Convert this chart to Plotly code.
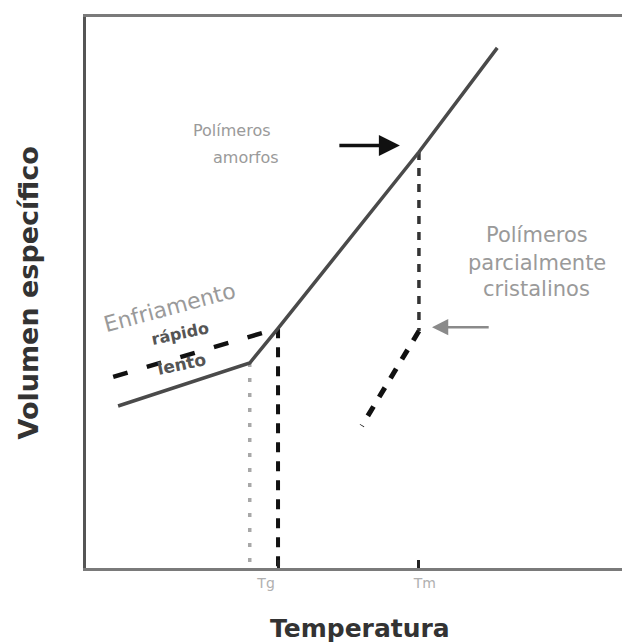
import plotly.graph_objects as go

# ---- data (arbitrary units: temperature 0-100, specific volume 0-100) ----
temp_amorphous = [5.9, 30.1, 35.3, 61.2, 75.6]
vol_amorphous = [29.4, 37.2, 43.5, 75.5, 94.4]

temp_fast_glass = [5.0, 35.3]
vol_fast_glass = [34.7, 43.5]

temp_crystalline = [61.2, 50.7]
vol_crystalline = [43.0, 25.8]

temp_tm_drop = [61.2, 61.2]
vol_tm_drop = [75.5, 43.0]

temp_tg_slow = [30.1, 30.1]
vol_tg_slow = [37.2, 0]

temp_tg_fast = [35.3, 35.3]
vol_tg_fast = [43.5, 0]

tick_vals = [33.1, 62.3]
tick_labels = ["Tg", "Tm"]
minor_tick_vals = [35.3, 61.2]

fig = go.Figure()

fig.add_trace(go.Scatter(x=temp_tg_slow, y=vol_tg_slow, mode="lines",
                         line=dict(color="#a8a8a8", width=3.5, dash="4px,11px"),
                         hoverinfo="skip", showlegend=False))
fig.add_trace(go.Scatter(x=temp_tg_fast, y=vol_tg_fast, mode="lines",
                         line=dict(color="#111111", width=4, dash="10px,9px"),
                         hoverinfo="skip", showlegend=False))
fig.add_trace(go.Scatter(x=temp_tm_drop, y=vol_tm_drop, mode="lines",
                         line=dict(color="#333333", width=3.5, dash="8px,8px"),
                         hoverinfo="skip", showlegend=False))
fig.add_trace(go.Scatter(x=temp_fast_glass, y=vol_fast_glass, mode="lines",
                         line=dict(color="#111111", width=4.5, dash="15px,20px"),
                         hoverinfo="skip", showlegend=False))
fig.add_trace(go.Scatter(x=temp_crystalline, y=vol_crystalline, mode="lines",
                         line=dict(color="#111111", width=5, dash="11px,11px"),
                         hoverinfo="skip", showlegend=False))
fig.add_trace(go.Scatter(x=temp_amorphous, y=vol_amorphous, mode="lines",
                         line=dict(color="#4a4a4a", width=3.5),
                         hoverinfo="skip", showlegend=False))

grey_txt = "#9a9a9a"
ann = []
# group labels
ann.append(dict(x=26.8, y=79.4, text="Polímeros", showarrow=False,
                font=dict(family="DejaVu Sans", size=16, color=grey_txt)))
ann.append(dict(x=29.4, y=74.5, text="amorfos", showarrow=False,
                font=dict(family="DejaVu Sans", size=16, color=grey_txt)))
ann.append(dict(x=82.9, y=60.5, text="Polímeros", showarrow=False,
                font=dict(family="DejaVu Sans", size=21, color=grey_txt)))
ann.append(dict(x=82.9, y=55.4, text="parcialmente", showarrow=False,
                font=dict(family="DejaVu Sans", size=21, color=grey_txt)))
ann.append(dict(x=82.9, y=50.7, text="cristalinos", showarrow=False,
                font=dict(family="DejaVu Sans", size=21, color=grey_txt)))
# cooling labels
ann.append(dict(x=15.4, y=47.3, text="Enfriamento", showarrow=False, textangle=-15,
                font=dict(family="DejaVu Sans", size=22, color=grey_txt)))
ann.append(dict(x=17.3, y=42.6, text="<b>rápido</b>", showarrow=False, textangle=-12,
                font=dict(family="DejaVu Sans", size=16, color="#555555")))
ann.append(dict(x=17.6, y=37.0, text="<b>lento</b>", showarrow=False, textangle=-12,
                font=dict(family="DejaVu Sans", size=17, color="#555555")))
# arrows
ann.append(dict(x=57.7, y=76.7, ax=46.3, ay=76.7, axref="x", ayref="y",
                xref="x", yref="y", text="", showarrow=True,
                arrowhead=2, arrowsize=1.2, arrowwidth=3.5, arrowcolor="#111111"))
ann.append(dict(x=63.6, y=43.7, ax=74.3, ay=43.7, axref="x", ayref="y",
                xref="x", yref="y", text="", showarrow=True,
                arrowhead=2, arrowsize=1.3, arrowwidth=2.5, arrowcolor="#8a8a8a"))
# axis titles
ann.append(dict(xref="paper", yref="paper", x=0.504, y=-0.139,
                text="<b>Temperatura</b>", showarrow=False,
                font=dict(family="DejaVu Sans", size=25, color="#333333")))
ann.append(dict(xref="paper", yref="paper", x=-0.137, y=0.5,
                text="<b>Volumen específico</b>", showarrow=False, textangle=-90,
                font=dict(family="DejaVu Sans", size=27, color="#333333")))

fig.update_layout(
    width=630, height=644,
    margin=dict(l=78, r=8, t=6, b=84),
    paper_bgcolor="white", plot_bgcolor="white",
    showlegend=False,
    annotations=ann,
    xaxis=dict(range=[0, 100], showgrid=False, zeroline=False,
               showline=True, linecolor="#7a7a7a", linewidth=3, mirror=True,
               tickvals=tick_vals, ticktext=tick_labels, ticks="",
               tickfont=dict(family="DejaVu Sans", size=14, color="#b0b0b0"),
               minor=dict(tickvals=minor_tick_vals, ticks="inside", ticklen=8,
                          tickwidth=3, tickcolor="#222222"),
               fixedrange=True),
    yaxis=dict(range=[0, 100], showgrid=False, zeroline=False,
               showline=True, linecolor="#555555", linewidth=3,
               showticklabels=False, ticks="", fixedrange=True),
)

fig.write_html("out.html")
